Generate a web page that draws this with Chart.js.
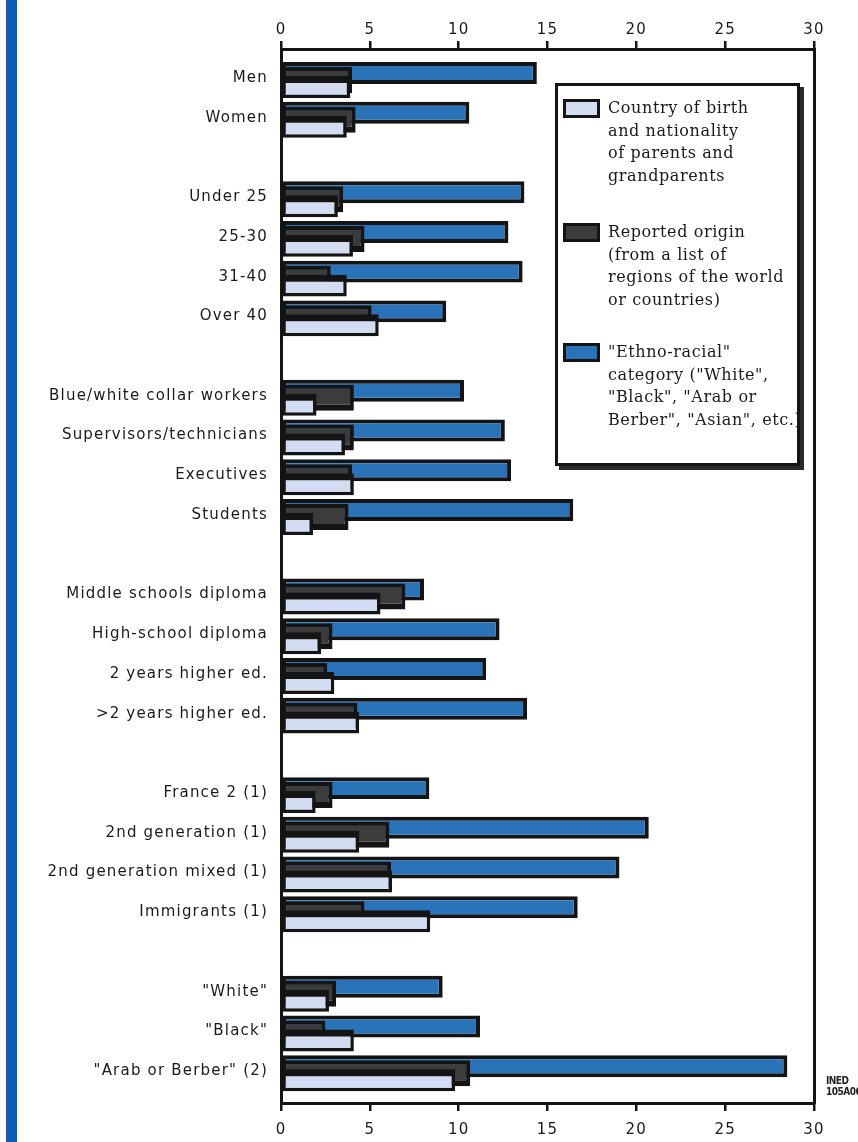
<!DOCTYPE html>
<html>
<head>
<meta charset="utf-8">
<script src="https://cdn.jsdelivr.net/npm/chart.js@4.4.1/dist/chart.umd.min.js"></script>
<style>
html, body { margin: 0; padding: 0; background: #fff; }
#wrap { position: relative; width: 858px; height: 1142px; overflow: hidden; }
#stripe { position: absolute; left: 6px; top: 0; width: 11px; height: 1142px; background: #0b5eaf; }
#legend {
    position: absolute; left: 555px; top: 83px; width: 239px; height: 377px;
    border: 3px solid #141414; box-shadow: 4px 4px 0 #2a2a2a; background: #fff;
    font-family: "DejaVu Serif", serif; font-size: 16px; letter-spacing: 0.6px; color: #1a1a1a;
}
.item { position: absolute; left: 5px; display: flex; }
.swatch { width: 31px; height: 13px; border: 3px solid #141414; margin-right: 8px; margin-top: 2px; flex: none; }
.lines div { line-height: 22.5px; white-space: nowrap; }
#ined {
    position: absolute; left: 826px; top: 1075px; font-family: "DejaVu Sans Condensed", "DejaVu Sans", sans-serif;
    font-weight: bold; font-size: 10px; line-height: 11px; letter-spacing: -0.5px; color: #222; white-space: nowrap;
}
</style>
</head>
<body>
<div id="wrap">
    <canvas id="originChart"></canvas>
    <div id="stripe"></div>
    <div id="legend"></div>
    <div id="ined">INED<br>105A06</div>
</div>
<script>
// '' marks the empty slot between groups
const categories = [
    'Men', 'Women', '',
    'Under 25', '25-30', '31-40', 'Over 40', '',
    'Blue/white collar workers', 'Supervisors/technicians', 'Executives', 'Students', '',
    'Middle schools diploma', 'High-school diploma', '2 years higher ed.', '>2 years higher ed.', '',
    'France 2 (1)', '2nd generation (1)', '2nd generation mixed (1)', 'Immigrants (1)', '',
    '"White"', '"Black"', '"Arab or Berber" (2)'
];
const countryOfBirth = [3.9, 3.7, null, 3.2, 4.05, 3.7, 5.5, null, 2.0, 3.6, 4.1, 1.8, null,
    5.6, 2.25, 3.0, 4.4, null, 1.95, 4.4, 6.25, 8.4, null, 2.7, 4.1, 9.8];
const reportedOrigin = [4.0, 4.2, null, 3.5, 4.7, 2.8, 5.1, null, 4.1, 4.1, 4.0, 3.8, null,
    7.0, 2.9, 2.6, 4.3, null, 2.9, 6.1, 6.2, 4.7, null, 3.1, 2.5, 10.65];
const ethnoRacial = [14.4, 10.6, null, 13.7, 12.8, 13.6, 9.3, null, 10.3, 12.6, 12.95, 16.45, null,
    8.05, 12.3, 11.55, 13.85, null, 8.35, 20.7, 19.05, 16.7, null, 9.1, 11.2, 28.5];
const xTicks = [0, 5, 10, 15, 20, 25, 30];
const seriesNames = [
    ['Country of birth', 'and nationality', 'of parents and', 'grandparents'],
    ['Reported origin', '(from a list of', 'regions of the world', 'or countries)'],
    ['"Ethno-racial"', 'category ("White",', '"Black", "Arab or', 'Berber", "Asian", etc.)']
];

const toPoints = vals => vals.map((v, i) => ({ x: v, y: i })).filter(p => p.x !== null);

// bars overlap: top bar drawn first, bottom one last
const layering = {
    id: 'layering',
    beforeDatasetsDraw(chart) {
        chart.data.datasets.forEach((d, i) => chart.getDatasetMeta(i).controller.draw());
        return false;
    }
};
const spacing = {
    id: 'spacing',
    beforeDraw(chart) { chart.ctx.letterSpacing = '1.2px'; }
};

const edge = '#141414';
const tickFont = { family: 'DejaVu Sans', size: 15 };
const xAxis = (pos, height, pad) => ({
    type: 'linear', position: pos, min: 0, max: 30,
    afterBuildTicks: s => { s.ticks = xTicks.map(v => ({ value: v })); },
    afterFit: s => { s.height = height; },
    grid: { drawOnChartArea: false, drawTicks: true, tickLength: 8, lineWidth: 2.5, color: edge },
    border: { display: true, color: edge, width: 3 },
    ticks: { padding: pad, color: '#1a1a1a', font: tickFont }
});

let originChart;

function initChart() {
    const ctx = document.getElementById('originChart').getContext('2d');
    originChart = new Chart(ctx, {
        type: 'bar',
        data: {
            datasets: [{
                label: seriesNames[2].join(' '),
                data: toPoints(ethnoRacial),
                backgroundColor: '#2b73b9',
                borderColor: edge,
                borderWidth: 4,
                borderSkipped: false,
                categoryPercentage: 0.528,
                barPercentage: 3.14
            }, {
                label: seriesNames[1].join(' '),
                data: toPoints(reportedOrigin),
                backgroundColor: '#3c3c3c',
                borderColor: edge,
                borderWidth: { top: 4, right: 4, bottom: 6, left: 4 },
                borderSkipped: false,
                categoryPercentage: 0.6,
                barPercentage: 3.27
            }, {
                label: seriesNames[0].join(' '),
                data: toPoints(countryOfBirth),
                backgroundColor: '#d3dcf0',
                borderColor: edge,
                borderWidth: { top: 7, right: 3.5, bottom: 3.5, left: 3.5 },
                borderSkipped: false,
                categoryPercentage: 0.528,
                barPercentage: 3.14
            }]
        },
        options: {
            indexAxis: 'y',
            responsive: true,
            maintainAspectRatio: false,
            animation: false,
            events: [],
            layout: { padding: 0 },
            scales: {
                x: xAxis('bottom', 39, 10),
                x2: xAxis('top', 49, 2),
                y: {
                    type: 'linear', reverse: true, offset: false, min: -0.78, max: 25.75, bounds: 'data',
                    afterBuildTicks: s => {
                        s.ticks = categories.map((c, i) => ({ value: i })).filter(t => categories[t.value]);
                    },
                    afterFit: s => { s.width = 281; },
                    grid: { display: false },
                    border: { display: true, color: edge, width: 3 },
                    ticks: {
                        autoSkip: false, padding: 5, labelOffset: -2, color: '#1a1a1a', font: tickFont,
                        callback: v => categories[v]
                    }
                },
                y2: {
                    type: 'linear', position: 'right',
                    afterFit: s => { s.width = 44; },
                    grid: { display: false },
                    ticks: { display: false },
                    border: { display: true, color: edge, width: 3 }
                }
            },
            plugins: {
                legend: { display: false },
                tooltip: { enabled: false }
            }
        },
        plugins: [layering, spacing]
    });
}

function buildLegend() {
    const box = document.getElementById('legend');
    const tops = [11, 135, 255];
    // legend lists the bottom bar first
    [2, 1, 0].forEach((di, k) => {
        const ds = originChart.data.datasets[di];
        const item = document.createElement('div');
        item.className = 'item';
        item.style.top = tops[k] + 'px';
        item.innerHTML = `<div class="swatch" style="background:${ds.backgroundColor}"></div>
            <div class="lines">${seriesNames[k].map(t => `<div>${t}</div>`).join('')}</div>`;
        box.appendChild(item);
    });
}

document.addEventListener('DOMContentLoaded', () => {
    initChart();
    buildLegend();
});
</script>
</body>
</html>
